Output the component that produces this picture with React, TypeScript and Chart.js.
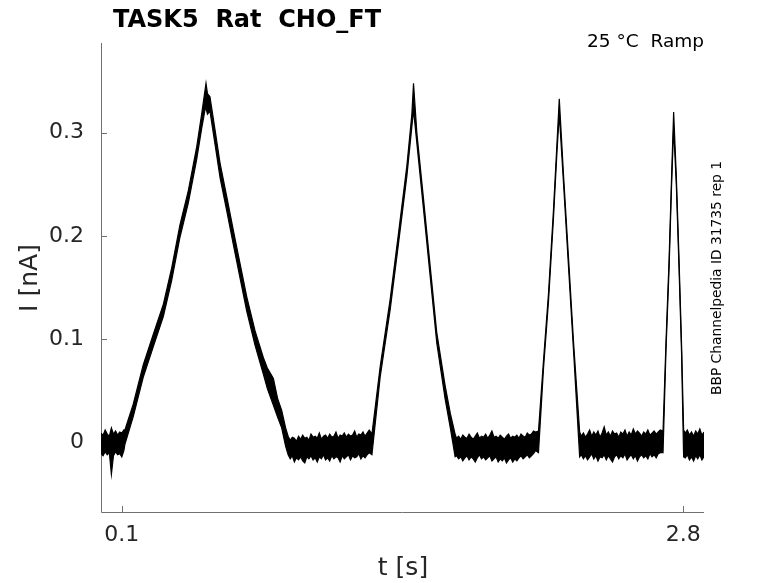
import { useEffect, useRef } from "react";
import { Chart, registerables, Plugin, ChartConfiguration } from "chart.js";

Chart.register(...registerables);

// baseline before the first ramp
const timeA = [0.0, 0.01, 0.02, 0.03, 0.04, 0.05, 0.06, 0.07, 0.08, 0.09, 0.1, 0.11];
const hiA = [0.009, 0.007, 0.012, 0.008, 0.006, 0.014, 0.008, 0.011, 0.007, 0.01, 0.009, 0.012];
const loA = [-0.011, -0.013, -0.009, -0.012, -0.01, -0.031, -0.013, -0.009, -0.012, -0.011, -0.014, -0.008];

// ramp 1 (slow)
const timeR1 = [0.115, 0.155, 0.203, 0.252, 0.3, 0.34, 0.38, 0.42, 0.46, 0.484, 0.5, 0.505, 0.512, 0.524, 0.549, 0.573, 0.605, 0.637, 0.669, 0.701, 0.741, 0.781, 0.8, 0.829, 0.85, 0.869, 0.888, 0.9];
const hiR1 = [0.012, 0.037, 0.075, 0.105, 0.134, 0.169, 0.211, 0.244, 0.286, 0.318, 0.341, 0.348, 0.338, 0.335, 0.302, 0.27, 0.238, 0.205, 0.173, 0.141, 0.108, 0.082, 0.072, 0.062, 0.042, 0.031, 0.014, 0.006];
const loR1 = [-0.002, 0.025, 0.063, 0.093, 0.122, 0.157, 0.199, 0.232, 0.274, 0.304, 0.322, 0.324, 0.318, 0.321, 0.288, 0.256, 0.224, 0.191, 0.159, 0.127, 0.094, 0.066, 0.052, 0.036, 0.024, 0.014, -0.004, -0.012];

// baseline between ramp 1 and 2
const timeB = [0.91, 0.92, 0.93, 0.94, 0.95, 0.96, 0.97, 0.98, 0.99, 1.0, 1.01, 1.02, 1.03, 1.04, 1.05, 1.06, 1.07, 1.08, 1.09, 1.1, 1.11, 1.12, 1.13, 1.14, 1.15, 1.16, 1.17, 1.18, 1.19, 1.2, 1.21, 1.22, 1.23, 1.24, 1.25, 1.26, 1.27, 1.28, 1.29];
const hiB = [0.002, 0.005, 0.004, 0.001, 0.006, 0.003, 0.007, 0.004, 0.005, 0.002, 0.008, 0.005, 0.006, 0.004, 0.009, 0.003, 0.006, 0.007, 0.004, 0.008, 0.005, 0.006, 0.01, 0.004, 0.007, 0.006, 0.009, 0.005, 0.008, 0.006, 0.007, 0.011, 0.005, 0.008, 0.007, 0.01, 0.006, 0.009, 0.012];
const loB = [-0.016, -0.013, -0.019, -0.015, -0.017, -0.014, -0.018, -0.02, -0.014, -0.016, -0.013, -0.017, -0.015, -0.019, -0.014, -0.016, -0.012, -0.017, -0.015, -0.018, -0.013, -0.016, -0.014, -0.015, -0.019, -0.013, -0.016, -0.014, -0.012, -0.017, -0.013, -0.015, -0.014, -0.011, -0.016, -0.013, -0.015, -0.012, -0.01];

// ramp 2
const timeR2 = [1.303, 1.343, 1.391, 1.431, 1.471, 1.495, 1.503, 1.519, 1.551, 1.583, 1.615, 1.655, 1.68, 1.703];
const hiR2 = [0.008, 0.074, 0.139, 0.203, 0.268, 0.318, 0.348, 0.3, 0.236, 0.171, 0.106, 0.055, 0.028, 0.008];
const loR2 = [-0.012, 0.064, 0.129, 0.193, 0.258, 0.306, 0.322, 0.29, 0.226, 0.161, 0.096, 0.042, 0.014, -0.014];

// baseline between ramp 2 and 3
const timeC = [1.71, 1.72, 1.73, 1.74, 1.75, 1.76, 1.77, 1.78, 1.79, 1.8, 1.81, 1.82, 1.83, 1.84, 1.85, 1.86, 1.87, 1.88, 1.89, 1.9, 1.91, 1.92, 1.93, 1.94, 1.95, 1.96, 1.97, 1.98, 1.99, 2.0, 2.01, 2.02, 2.03, 2.04, 2.05, 2.06, 2.07, 2.08, 2.09];
const hiC = [0.004, 0.006, 0.003, 0.007, 0.005, 0.004, 0.008, 0.005, 0.003, 0.006, 0.009, 0.004, 0.006, 0.005, 0.008, 0.004, 0.007, 0.011, 0.005, 0.006, 0.004, 0.007, 0.005, 0.003, 0.006, 0.008, 0.004, 0.006, 0.005, 0.007, 0.004, 0.008, 0.006, 0.005, 0.009, 0.007, 0.008, 0.011, 0.01];
const loC = [-0.013, -0.016, -0.014, -0.018, -0.015, -0.013, -0.017, -0.014, -0.016, -0.019, -0.015, -0.012, -0.016, -0.014, -0.017, -0.015, -0.013, -0.018, -0.016, -0.014, -0.019, -0.016, -0.018, -0.015, -0.02, -0.017, -0.015, -0.019, -0.016, -0.018, -0.015, -0.013, -0.016, -0.014, -0.012, -0.015, -0.013, -0.011, -0.008];

// ramp 3
const timeR3 = [2.104, 2.128, 2.152, 2.176, 2.193, 2.204, 2.225, 2.249, 2.273, 2.302];
const hiR3 = [0.011, 0.079, 0.144, 0.225, 0.29, 0.333, 0.257, 0.177, 0.096, 0.01];
const loR3 = [-0.01, 0.071, 0.136, 0.217, 0.282, 0.318, 0.249, 0.168, 0.087, -0.014];

// baseline between ramp 3 and 4
const timeD = [2.31, 2.32, 2.33, 2.34, 2.35, 2.36, 2.37, 2.38, 2.39, 2.4, 2.41, 2.42, 2.43, 2.44, 2.45, 2.46, 2.47, 2.48, 2.49, 2.5, 2.51, 2.52, 2.53, 2.54, 2.55, 2.56, 2.57, 2.58, 2.59, 2.6, 2.61, 2.62, 2.63, 2.64, 2.65, 2.66, 2.67, 2.68, 2.69];
const hiD = [0.006, 0.009, 0.005, 0.008, 0.012, 0.006, 0.01, 0.007, 0.011, 0.005, 0.009, 0.015, 0.007, 0.01, 0.006, 0.011, 0.008, 0.009, 0.005, 0.01, 0.008, 0.012, 0.006, 0.01, 0.007, 0.013, 0.008, 0.011, 0.009, 0.006, 0.01, 0.008, 0.012, 0.007, 0.009, 0.011, 0.008, 0.01, 0.012];
const loD = [-0.012, -0.016, -0.013, -0.017, -0.014, -0.011, -0.016, -0.013, -0.018, -0.014, -0.015, -0.012, -0.017, -0.013, -0.016, -0.019, -0.014, -0.012, -0.016, -0.013, -0.015, -0.011, -0.017, -0.014, -0.012, -0.016, -0.013, -0.018, -0.014, -0.012, -0.015, -0.013, -0.016, -0.011, -0.014, -0.012, -0.015, -0.011, -0.01];

// ramp 4 (fast)
const timeR4 = [2.703, 2.717, 2.732, 2.744, 2.754, 2.767, 2.78, 2.792, 2.802];
const hiR4 = [0.011, 0.096, 0.177, 0.257, 0.32, 0.257, 0.177, 0.096, 0.012];
const loR4 = [-0.01, 0.088, 0.168, 0.249, 0.305, 0.249, 0.168, 0.087, -0.014];

// baseline after ramp 4
const timeE = [2.81, 2.82, 2.83, 2.84, 2.85, 2.86, 2.87, 2.88, 2.89, 2.9];
const hiE = [0.009, 0.012, 0.007, 0.01, 0.006, 0.011, 0.008, 0.013, 0.007, 0.01];
const loE = [-0.015, -0.012, -0.017, -0.014, -0.018, -0.013, -0.016, -0.012, -0.017, -0.014];

const xTicks = [0.1, 2.8];
const xTickLabels = ["0.1", "2.8"];
const yTicks = [0, 0.1, 0.2, 0.3];
const yTickLabels = ["0", "0.1", "0.2", "0.3"];

const timeS = [...timeA, ...timeR1, ...timeB, ...timeR2, ...timeC, ...timeR3, ...timeD, ...timeR4, ...timeE];
const upperNa = [...hiA, ...hiR1, ...hiB, ...hiR2, ...hiC, ...hiR3, ...hiD, ...hiR4, ...hiE];
const lowerNa = [...loA, ...loR1, ...loB, ...loR2, ...loC, ...loR3, ...loD, ...loR4, ...loE];

const FONT = "DejaVu Sans";
const INK = "#262626";

const decorPlugin: Plugin = {
  id: "decor",
  beforeDatasetsDraw(chart) {
    const { ctx, chartArea } = chart;
    const { left, right, top, bottom } = chartArea;
    const xs = chart.scales.x;
    const ys = chart.scales.y;
    ctx.save();
    ctx.strokeStyle = "#707070";
    ctx.lineWidth = 1;
    ctx.beginPath();
    ctx.moveTo(left + 0.5, top);
    ctx.lineTo(left + 0.5, bottom + 0.5);
    ctx.lineTo(right, bottom + 0.5);
    xTicks.forEach((v) => {
      const px = Math.round(xs.getPixelForValue(v)) + 0.5;
      ctx.moveTo(px, bottom);
      ctx.lineTo(px, bottom - 6);
    });
    yTicks.forEach((v) => {
      const py = Math.round(ys.getPixelForValue(v)) + 0.5;
      ctx.moveTo(left, py);
      ctx.lineTo(left + 6, py);
    });
    ctx.stroke();
    ctx.restore();
  },
  afterDraw(chart) {
    const { ctx } = chart;
    ctx.save();
    ctx.textBaseline = "alphabetic";

    // title
    ctx.fillStyle = "#000";
    ctx.font = `bold 24px "${FONT}"`;
    ctx.textAlign = "left";
    ctx.fillText("TASK5  Rat  CHO_FT", 113, 27);

    // condition label
    ctx.font = `18.5px "${FONT}"`;
    ctx.textAlign = "right";
    ctx.fillText("25 °C  Ramp", 704, 47);

    // x axis title
    ctx.fillStyle = INK;
    ctx.font = `25px "${FONT}"`;
    ctx.textAlign = "center";
    ctx.fillText("t [s]", 403, 575);

    // y axis title
    ctx.save();
    ctx.translate(37, 278);
    ctx.rotate(-Math.PI / 2);
    ctx.fillText("I [nA]", 0, 0);
    ctx.restore();

    // side note
    ctx.save();
    ctx.fillStyle = "#000";
    ctx.font = `13.8px "${FONT}"`;
    ctx.translate(721, 278);
    ctx.rotate(-Math.PI / 2);
    ctx.textAlign = "center";
    ctx.fillText("BBP Channelpedia ID 31735 rep 1", 0, 0);
    ctx.restore();

    ctx.restore();
  },
};

export default function App() {
  const canvasRef = useRef<HTMLCanvasElement | null>(null);

  useEffect(() => {
    if (!canvasRef.current) return;

    const config: ChartConfiguration = {
      type: "line",
      data: {
        datasets: [
          {
            label: "lower",
            data: timeS.map((t, i) => ({ x: t, y: lowerNa[i] })),
            borderColor: "#000",
            borderWidth: 1.2,
            pointRadius: 0,
            tension: 0,
            fill: false,
          },
          {
            label: "upper",
            data: timeS.map((t, i) => ({ x: t, y: upperNa[i] })),
            borderColor: "#000",
            backgroundColor: "#000",
            borderWidth: 1.2,
            pointRadius: 0,
            tension: 0,
            fill: "-1",
          },
        ],
      },
      options: {
        animation: false,
        responsive: false,
        events: [],
        layout: { padding: { top: 43, right: 74, bottom: 0, left: 0 } },
        plugins: {
          legend: { display: false },
          tooltip: { enabled: false },
          title: { display: false },
        },
        scales: {
          x: {
            type: "linear",
            min: 0,
            max: 2.9,
            grid: { display: false },
            border: { display: false },
            afterBuildTicks: (scale) => {
              scale.ticks = xTicks.map((v) => ({ value: v }));
            },
            afterFit: (scale) => {
              scale.height = 71;
            },
            ticks: {
              autoSkip: false,
              maxRotation: 0,
              padding: 4,
              color: INK,
              font: { family: FONT, size: 22, lineHeight: 1 },
              callback: (_v, i) => xTickLabels[i],
            },
          },
          y: {
            type: "linear",
            min: -0.0675,
            max: 0.387,
            grid: { display: false },
            border: { display: false },
            afterBuildTicks: (scale) => {
              scale.ticks = yTicks.map((v) => ({ value: v }));
            },
            afterFit: (scale) => {
              scale.width = 101;
            },
            ticks: {
              autoSkip: false,
              padding: 9,
              color: INK,
              font: { family: FONT, size: 22, lineHeight: 1 },
              callback: (_v, i) => yTickLabels[i],
            },
          },
        },
      },
      plugins: [decorPlugin],
    };

    const chart = new Chart(canvasRef.current, config);
    return () => {
      chart.destroy();
    };
  }, []);

  return (
    <div style={{ position: "absolute", left: 0, top: 0, width: 778, height: 583, background: "#fff" }}>
      <canvas ref={canvasRef} width={778} height={583} style={{ display: "block" }}></canvas>
    </div>
  );
}
